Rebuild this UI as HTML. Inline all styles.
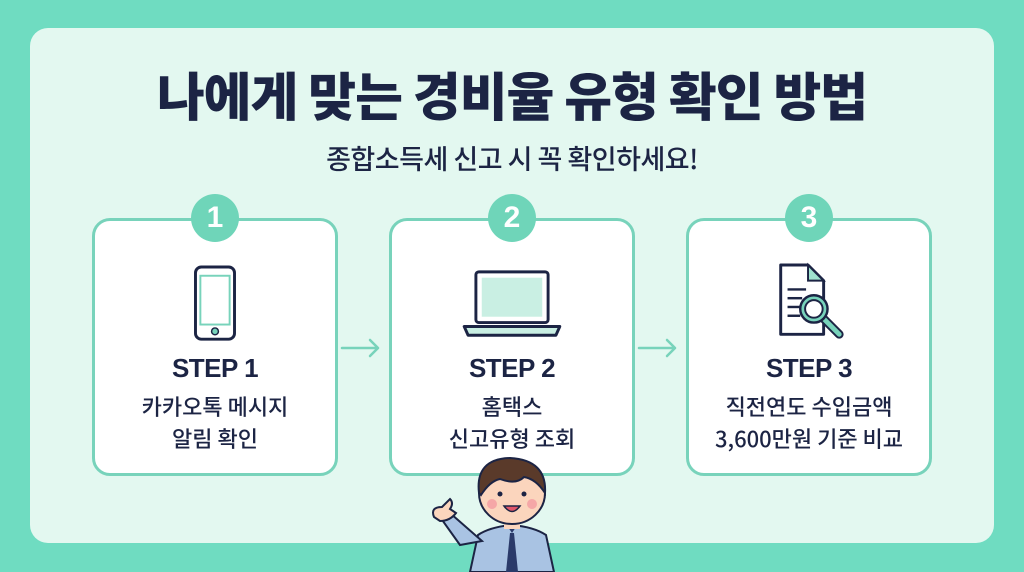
<!DOCTYPE html>
<html><head><meta charset="utf-8"><style>
*{margin:0;padding:0;box-sizing:border-box}
body{width:1024px;height:572px;background:#6fdcc1;position:relative;overflow:hidden;font-family:"Liberation Sans","Noto Sans CJK KR",sans-serif;color:#1c2444}
.panel{position:absolute;left:30px;top:28px;width:964px;height:515px;background:#e3f8f0;border-radius:18px}
.title{position:absolute;left:0;width:1024px;top:56px;text-align:center;font-family:"Noto Sans CJK KR",sans-serif;font-weight:900;font-size:52px;letter-spacing:-1px;color:#1c2444}
.sub{position:absolute;left:0;width:1024px;top:138px;text-align:center;font-family:"Noto Sans CJK KR",sans-serif;font-weight:500;font-size:27px;letter-spacing:-0.5px}
.card{position:absolute;top:218px;width:246px;height:258px;background:#fff;border:3px solid #78d3bb;border-radius:18px;text-align:center}
.num{position:absolute;top:194px;width:48px;height:48px;border-radius:50%;background:#6fd5b9;color:#fff;font-weight:700;font-size:30px;line-height:48px;text-align:center;font-family:"Liberation Sans",sans-serif}
.step{position:absolute;left:0;width:100%;top:132px;font-weight:700;font-size:26px;font-family:"Liberation Sans",sans-serif;letter-spacing:-0.5px}
.desc{position:absolute;left:0;width:100%;top:169px;font-family:"Noto Sans CJK KR",sans-serif;font-size:22px;line-height:32px;font-weight:500}
.icon{position:absolute;left:0;width:100%;top:40px}
.arrow{position:absolute;top:336px}
</style></head><body>
<div class="panel"></div>
<div class="title">나에게 맞는 경비율 유형 확인 방법</div>
<div class="sub">종합소득세 신고 시 꼭 확인하세요!</div>

<div class="card" style="left:92px">
 <svg class="icon" width="246" height="90" viewBox="0 0 246 90"><rect x="103" y="5" width="40" height="74" rx="6" fill="#fff" stroke="#1c2444" stroke-width="3"/><rect x="108" y="14" width="30" height="50" fill="#fff" stroke="#78d3bb" stroke-width="2"/><circle cx="123" cy="71" r="3.5" fill="#78d3bb" stroke="#1c2444" stroke-width="1.5"/></svg>
 <div class="step">STEP 1</div>
 <div class="desc">카카오톡 메시지<br>알림 확인</div>
</div>
<div class="num" style="left:191px">1</div>

<div class="card" style="left:389px">
 <svg class="icon" width="246" height="90" viewBox="0 0 246 90"><rect x="86" y="10" width="74" height="52" rx="3" fill="#fff" stroke="#1c2444" stroke-width="3"/><rect x="92" y="16" width="62" height="40" fill="#c9efe3"/><path d="M74 66 H172 L168 75 H78 Z" fill="#c9efe3" stroke="#1c2444" stroke-width="3" stroke-linejoin="round"/></svg>
 <div class="step">STEP 2</div>
 <div class="desc">홈택스<br>신고유형 조회</div>
</div>
<div class="num" style="left:488px">2</div>

<div class="card" style="left:686px">
 <svg class="icon" width="246" height="90" viewBox="0 0 246 90"><path d="M94 3 H122 L138 19 V74 H94 Z" fill="#fff" stroke="#1c2444" stroke-width="3" stroke-linejoin="round"/><path d="M122 3 V19 H138 Z" fill="#9fe3cf" stroke="#1c2444" stroke-width="2"/><g stroke="#1c2444" stroke-width="2.5"><line x1="101" y1="28" x2="120" y2="28"/><line x1="101" y1="37" x2="116" y2="37"/><line x1="101" y1="46" x2="114" y2="46"/><line x1="101" y1="55" x2="114" y2="55"/></g><line x1="138" y1="58" x2="154" y2="74" stroke="#1c2444" stroke-width="9" stroke-linecap="round"/><line x1="138" y1="58" x2="154" y2="74" stroke="#78d3bb" stroke-width="5" stroke-linecap="round"/><circle cx="128" cy="48" r="14" fill="#78d3bb" stroke="#1c2444" stroke-width="2.5"/><circle cx="128" cy="48" r="9" fill="#fff" stroke="#1c2444" stroke-width="2"/></svg>
 <div class="step">STEP 3</div>
 <div class="desc">직전연도 수입금액<br>3,600만원 기준 비교</div>
</div>
<div class="num" style="left:785px">3</div>

<svg class="arrow" style="left:340px" width="42" height="24"><path d="M2 12 H38 M30 4 L38 12 L30 20" fill="none" stroke="#78d3bb" stroke-width="2.5" stroke-linecap="round" stroke-linejoin="round"/></svg>
<svg class="arrow" style="left:637px" width="42" height="24"><path d="M2 12 H38 M30 4 L38 12 L30 20" fill="none" stroke="#78d3bb" stroke-width="2.5" stroke-linecap="round" stroke-linejoin="round"/></svg>

<svg style="position:absolute;left:420px;top:455px" width="180" height="117" viewBox="0 0 180 117">
 <path d="M50 117 L58 80 Q70 72 92 70 Q114 72 126 80 L134 117 Z" fill="#a9c3e3" stroke="#1c2444" stroke-width="2"/>
 <path d="M40 90 L20 62 L30 58 L62 86 Z" fill="#a9c3e3" stroke="#1c2444" stroke-width="2"/>
 <path d="M88 72 L92 78 L96 72 Z M90 78 L86 117 L98 117 L94 78 Z" fill="#2a3a6a"/>
 <path d="M14 62 Q10 52 22 52 L30 44 Q34 48 30 54 L36 58 Q30 66 20 66 Z" fill="#fbd5bd" stroke="#1c2444" stroke-width="2"/>
 <rect x="84" y="58" width="16" height="16" fill="#fbd5bd"/>
 <ellipse cx="92" cy="38" rx="33" ry="31" fill="#fbd5bd" stroke="#1c2444" stroke-width="2"/>
 <path d="M59 38 Q55 4 90 3 Q127 5 125 38 Q116 24 104 22 Q96 30 80 24 Q70 26 61 40 Z" fill="#5a3a2a" stroke="#1c2444" stroke-width="2"/>
 <circle cx="80" cy="39" r="2.5" fill="#1c2444"/><circle cx="104" cy="39" r="2.5" fill="#1c2444"/>
 <circle cx="72" cy="49" r="5" fill="#f5a7a7"/><circle cx="112" cy="49" r="5" fill="#f5a7a7"/>
 <path d="M84 51 Q92 62 100 51 Z" fill="#e0566a" stroke="#1c2444" stroke-width="1.5"/>
</svg>
</body></html>
